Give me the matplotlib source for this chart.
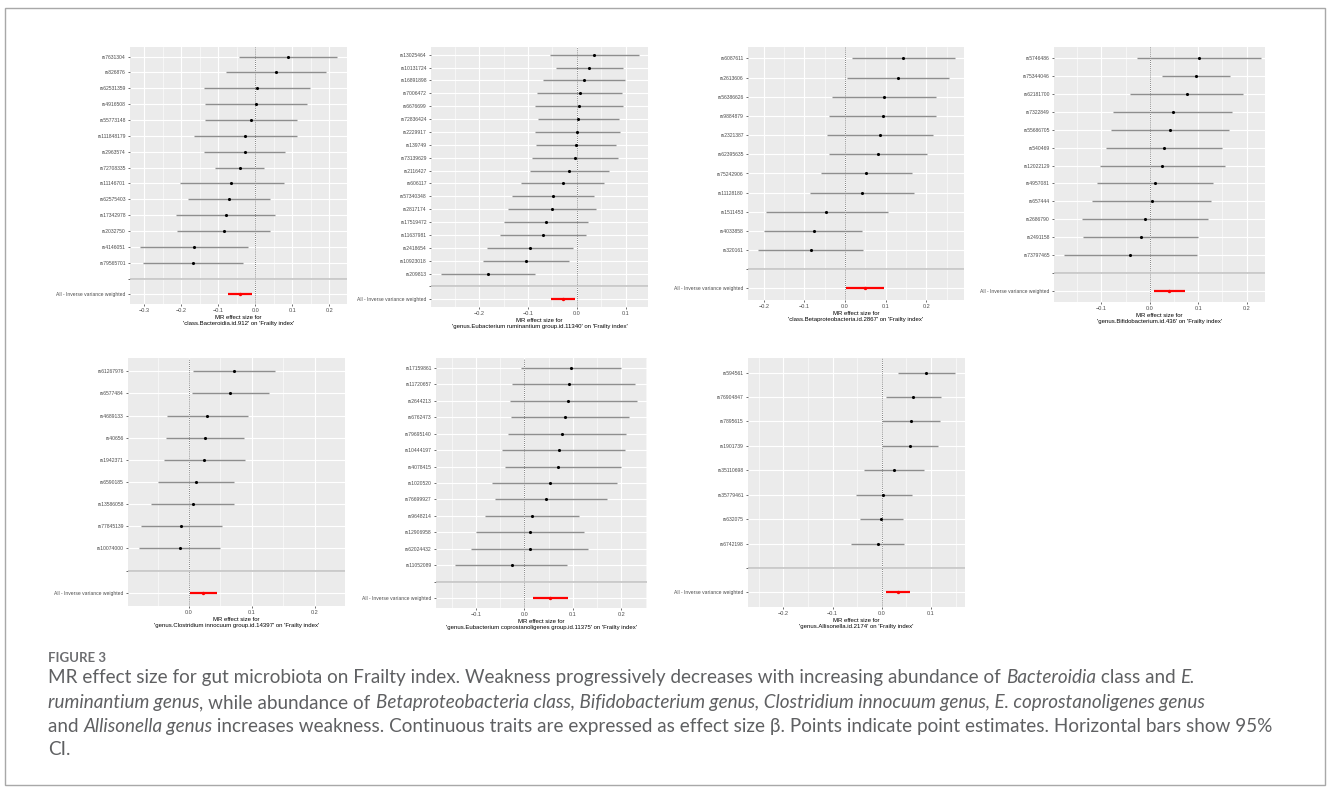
import matplotlib.pyplot as plt
from matplotlib.patches import Rectangle
from matplotlib.ticker import MultipleLocator

plt.rcParams['font.family'] = ['Liberation Sans', 'DejaVu Sans']

W, H = 1328, 789

# ---- data (beta, 95% CI low, 95% CI high) ----
snps_bact = ["rs7631304", "rs826876", "rs62531359", "rs4916508", "rs55773148", "rs111848179", "rs2963574",
             "rs72708335", "rs11146701", "rs62575403", "rs17342978", "rs2032750", "rs4146051", "rs79565701"]
beta_bact = [0.088, 0.056, 0.005, 0.001, -0.013, -0.028, -0.029, -0.042, -0.065, -0.072, -0.080, -0.086, -0.166, -0.168]
lo_bact = [-0.043, -0.079, -0.138, -0.136, -0.135, -0.166, -0.138, -0.109, -0.204, -0.182, -0.214, -0.211, -0.312, -0.304]
hi_bact = [0.222, 0.191, 0.148, 0.139, 0.112, 0.112, 0.080, 0.024, 0.077, 0.039, 0.054, 0.041, -0.020, -0.032]
ivw_bact = [-0.042, -0.075, -0.009]

snps_rum = ["rs13025464", "rs10131724", "rs16891898", "rs7006472", "rs6676699", "rs72836424", "rs2229917", "rs139749",
            "rs73139629", "rs2116427", "rs606117", "rs57340348", "rs2817174", "rs17519472", "rs11637981", "rs2418654",
            "rs10923018", "rs209813"]
beta_rum = [0.036, 0.026, 0.014, 0.006, 0.005, 0.003, 0.001, -0.002, -0.004, -0.016, -0.029, -0.049, -0.051, -0.063,
            -0.069, -0.095, -0.104, -0.182]
lo_rum = [-0.054, -0.042, -0.070, -0.082, -0.085, -0.079, -0.086, -0.084, -0.092, -0.097, -0.114, -0.133, -0.142, -0.149,
          -0.157, -0.184, -0.192, -0.279]
hi_rum = [0.127, 0.095, 0.098, 0.093, 0.095, 0.086, 0.088, 0.080, 0.084, 0.066, 0.055, 0.036, 0.040, 0.023, 0.019,
          -0.007, -0.015, -0.085]
ivw_rum = [-0.028, -0.052, -0.003]

snps_beta = ["rs6087611", "rs2613606", "rs56386626", "rs9884879", "rs2321387", "rs62395635", "rs75242906", "rs11128180",
             "rs1511453", "rs4033858", "rs320161"]
beta_beta = [0.143, 0.131, 0.097, 0.093, 0.085, 0.082, 0.052, 0.043, -0.046, -0.077, -0.085]
lo_beta = [0.018, 0.006, -0.031, -0.040, -0.045, -0.039, -0.060, -0.086, -0.195, -0.199, -0.215]
hi_beta = [0.270, 0.257, 0.225, 0.225, 0.216, 0.202, 0.166, 0.170, 0.105, 0.043, 0.044]
ivw_beta = [0.048, 0.002, 0.095]

snps_bifi = ["rs5746486", "rs75344046", "rs62181700", "rs7322849", "rs55686705", "rs540469", "rs12022129", "rs4957081",
             "rs657444", "rs2686790", "rs2491158", "rs73797465"]
beta_bifi = [0.101, 0.096, 0.077, 0.048, 0.041, 0.029, 0.026, 0.010, 0.004, -0.009, -0.019, -0.040]
lo_bifi = [-0.026, 0.025, -0.040, -0.077, -0.081, -0.091, -0.103, -0.110, -0.119, -0.140, -0.138, -0.178]
hi_bifi = [0.229, 0.166, 0.192, 0.170, 0.163, 0.149, 0.156, 0.131, 0.126, 0.121, 0.099, 0.097]
ivw_bifi = [0.040, 0.008, 0.073]

snps_clos = ["rs61267976", "rs6577484", "rs4689133", "rs40656", "rs1942371", "rs6590185", "rs13586058", "rs77845139",
             "rs10074000"]
beta_clos = [0.071, 0.065, 0.029, 0.026, 0.024, 0.011, 0.006, -0.012, -0.015]
lo_clos = [0.006, 0.004, -0.035, -0.036, -0.039, -0.049, -0.060, -0.076, -0.080]
hi_clos = [0.136, 0.127, 0.094, 0.087, 0.089, 0.071, 0.072, 0.053, 0.049]
ivw_clos = [0.023, 0.002, 0.044]

snps_copr = ["rs17159861", "rs11720657", "rs2644213", "rs6762473", "rs79695140", "rs10444197", "rs4078415", "rs1020520",
             "rs76699927", "rs9648214", "rs12906958", "rs62024432", "rs11052089"]
beta_copr = [0.097, 0.092, 0.091, 0.084, 0.078, 0.071, 0.070, 0.053, 0.045, 0.016, 0.012, 0.011, -0.026]
lo_copr = [-0.006, -0.025, -0.029, -0.027, -0.034, -0.045, -0.040, -0.067, -0.060, -0.080, -0.100, -0.110, -0.143]
hi_copr = [0.200, 0.229, 0.233, 0.216, 0.210, 0.207, 0.200, 0.192, 0.170, 0.113, 0.124, 0.132, 0.089]
ivw_copr = [0.054, 0.019, 0.090]

snps_alli = ["rs594561", "rs76904847", "rs7895615", "rs1901739", "rs35110698", "rs35779461", "rs632075", "rs6742198"]
beta_alli = [0.089, 0.064, 0.059, 0.058, 0.024, 0.003, -0.001, -0.008]
lo_alli = [0.032, 0.008, 0.001, 0.001, -0.036, -0.052, -0.044, -0.062]
hi_alli = [0.148, 0.121, 0.118, 0.114, 0.085, 0.061, 0.044, 0.046]
ivw_alli = [0.032, 0.008, 0.058]

exposures = ["class.Bacteroidia.id.912", "genus.Eubacterium ruminantium group.id.11340",
             "class.Betaproteobacteria.id.2867", "genus.Bifidobacterium.id.436",
             "genus.Clostridium innocuum group.id.14397", "genus.Eubacterium coprostanoligenes group.id.11375",
             "genus.Allisonella.id.2174"]

fig = plt.figure(figsize=(W / 100, H / 100), dpi=100)
fig.patches.append(Rectangle((4.5 / W, 1 - 785 / H), 1320.5 / W, 777 / H, transform=fig.transFigure,
                             fill=False, edgecolor='#a8a8a8', lw=1.0))


def ax_at(x0, y0, x1, y1):
    return fig.add_axes([x0 / W, 1 - y1 / H, (x1 - x0) / W, (y1 - y0) / H])


def forest(ax, snps, beta, lo, hi, ivw, exposure, xlim):
    n = len(snps)
    ys = [n + 2 - i for i in range(n)]
    ax.set_facecolor('#ebebeb')
    ax.set_xlim(*xlim)
    ax.set_ylim(0.4, n + 2.6)
    ax.xaxis.set_major_locator(MultipleLocator(0.1))
    ax.xaxis.set_minor_locator(MultipleLocator(0.05))
    ax.grid(which='major', color='white', lw=0.8)
    ax.grid(which='minor', axis='x', color='white', lw=0.4)
    ax.set_axisbelow(True)
    for s in ax.spines.values():
        s.set_visible(False)
    ax.set_yticks(ys + [2, 1])
    ax.set_yticklabels(snps + ["", "All - Inverse variance weighted"])
    ax.tick_params(which='major', length=1.6, width=0.5, color='#333333', labelsize=3.6,
                   labelcolor='#4d4d4d', pad=1.5)
    ax.tick_params(which='minor', length=0)
    ax.tick_params(axis='x', labelsize=4.0)

    ax.axvline(0, color='#555555', lw=0.6, ls=(0, (1, 1.5)), zorder=2)
    ax.axhline(2, color='#c4c4c4', lw=1.2, zorder=2)
    ax.hlines(ys, lo, hi, color='#8e8e8e', lw=1.0, zorder=3)
    ax.scatter(beta, ys, s=5, color='black', zorder=4, linewidths=0)
    ax.hlines([1], [ivw[1]], [ivw[2]], color='red', lw=1.6, zorder=3)
    ax.scatter([ivw[0]], [1], s=6, color='red', zorder=4, linewidths=0)
    ax.set_xlabel("MR effect size for\n'" + exposure + "' on 'Frailty index'",
                  fontsize=4.3, labelpad=1.5, linespacing=1.1)


panels = [
    ((130, 47, 347, 304), snps_bact, beta_bact, lo_bact, hi_bact, ivw_bact, (-0.339, 0.248)),
    ((431, 47, 648, 307), snps_rum, beta_rum, lo_rum, hi_rum, ivw_rum, (-0.299, 0.146)),
    ((748, 47, 964, 300), snps_beta, beta_beta, lo_beta, hi_beta, ivw_beta, (-0.239, 0.293)),
    ((1054, 47, 1265, 302), snps_bifi, beta_bifi, lo_bifi, hi_bifi, ivw_bifi, (-0.198, 0.238)),
    ((128, 358, 345, 606), snps_clos, beta_clos, lo_clos, hi_clos, ivw_clos, (-0.097, 0.248)),
    ((436, 358, 647, 608), snps_copr, beta_copr, lo_copr, hi_copr, ivw_copr, (-0.182, 0.253)),
    ((748, 358, 965, 607), snps_alli, beta_alli, lo_alli, hi_alli, ivw_alli, (-0.272, 0.169)),
]
for (box, snps, b, lo, hi, ivw, xl), expo in zip(panels, exposures):
    forest(ax_at(*box), snps, b, lo, hi, ivw, expo, xl)

# ---- caption ----
cap_color = '#5f6062'
fig.text(48 / W, 1 - 662 / H, "FIGURE 3", fontsize=9.5, fontweight='bold', family='Lato',
         color='#6d6e71', va='baseline')

cap_lines = [
    [("MR effect size for gut microbiota on Frailty index. Weakness progressively decreases with increasing "
      "abundance of ", False), ("Bacteroidia", True), (" class and ", False), ("E.", True)],
    [("ruminantium genus", True), (", while abundance of ", False),
     ("Betaproteobacteria class, Bifidobacterium genus, Clostridium innocuum genus, E. coprostanoligenes genus", True)],
    [("and ", False), ("Allisonella genus", True),
     (" increases weakness. Continuous traits are expressed as effect size \u03b2. Points indicate point estimates. "
      "Horizontal bars show 95%", False)],
    [("CI.", False)],
]
cap_base = [683, 708, 732, 755]

renderer = fig.canvas.get_renderer()


def draw_line(parts, y, size, keep=True):
    x = 48.0
    for s, it in parts:
        t = fig.text(x / W, 1 - y / H, s, fontsize=size, family='Lato', style='italic' if it else 'normal',
                     color=cap_color, va='baseline')
        x += t.get_window_extent(renderer).width
        if not keep:
            t.remove()
    return x - 48


# size the caption so its widest line ends where the reference lines end (~x=1270)
widest = max(draw_line(p, 400, 10, keep=False) for p in cap_lines)
size = 10 * (1270 - 48) / widest
for parts, y in zip(cap_lines, cap_base):
    draw_line(parts, y, size)

fig.savefig('out.png', dpi=100)
